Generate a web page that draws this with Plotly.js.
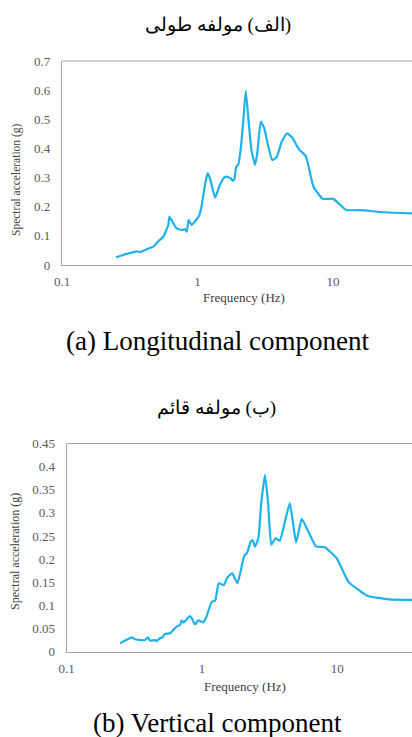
<!DOCTYPE html>
<html>
<head>
<meta charset="utf-8">
<script src="https://cdn.plot.ly/plotly-3.0.1.min.js"></script>
<style>
html,body{margin:0;padding:0;background:#fff;}
#chart{width:412px;height:737px;}
</style>
</head>
<body>
<div id="chart"></div>
<script>
// Longitudinal component (a)
const freqA = [0.25,0.30,0.356,0.376,0.422,0.472,0.517,0.56,0.609,0.62,0.663,0.70,0.762,0.81,0.833,0.86,0.905,0.96,1.026,1.07,1.14,1.19,1.24,1.35,1.45,1.55,1.64,1.76,1.82,1.87,1.93,2.0,2.08,2.17,2.27,2.39,2.5,2.66,2.76,2.93,3.11,3.33,3.56,3.84,4.18,4.59,5.04,5.6,6.3,7.17,8.4,10.05,12.5,15.8,24.2,40];
const accA = [0.026,0.038,0.047,0.044,0.054,0.063,0.083,0.097,0.137,0.166,0.143,0.126,0.120,0.123,0.114,0.155,0.137,0.150,0.169,0.200,0.280,0.315,0.295,0.231,0.270,0.297,0.303,0.297,0.289,0.294,0.337,0.345,0.395,0.486,0.598,0.486,0.395,0.343,0.383,0.492,0.469,0.406,0.360,0.370,0.423,0.452,0.435,0.397,0.374,0.269,0.227,0.227,0.189,0.188,0.181,0.177];
// Vertical component (b)
const freqB = [0.248,0.27,0.302,0.32,0.358,0.379,0.397,0.413,0.45,0.46,0.49,0.51,0.53,0.58,0.613,0.65,0.688,0.707,0.73,0.77,0.81,0.837,0.89,0.94,0.99,1.02,1.08,1.18,1.25,1.33,1.45,1.53,1.67,1.83,2.05,2.15,2.29,2.37,2.46,2.61,2.74,2.92,3.08,3.25,3.5,3.76,4.1,4.46,4.96,5.46,6.19,6.99,8.1,9.9,12.1,16.6,24.2,36];
const accB = [0.018,0.024,0.031,0.027,0.025,0.025,0.031,0.024,0.025,0.023,0.029,0.031,0.038,0.040,0.047,0.054,0.058,0.068,0.063,0.070,0.077,0.073,0.059,0.068,0.065,0.063,0.076,0.108,0.110,0.148,0.144,0.159,0.170,0.148,0.207,0.213,0.238,0.241,0.227,0.245,0.321,0.382,0.321,0.231,0.245,0.240,0.281,0.321,0.236,0.287,0.256,0.227,0.226,0.202,0.151,0.121,0.113,0.112];

const xTickVals = [0.1, 1, 10];
const xTickText = ["0.1", "1", "10"];
const yTickValsA = [0,0.1,0.2,0.3,0.4,0.5,0.6,0.7];
const yTickTextA = ["0","0.1","0.2","0.3","0.4","0.5","0.6","0.7"];
const yTickValsB = [0,0.05,0.1,0.15,0.2,0.25,0.3,0.35,0.4,0.45];
const yTickTextB = ["0","0.05","0.1","0.15","0.2","0.25","0.3","0.35","0.4","0.45"];

const titleA = "(الف) مولفه طولی";
const titleB = "(ب) مولفه قائم";
const captionA = "(a) Longitudinal component";
const captionB = "(b) Vertical component";
const xTitle = "Frequency (Hz)";
const yTitle = "Spectral acceleration (g)";

const RLM = "\u200F";
const rtl = s => RLM + s + RLM;

const W = 412, H = 737;
const px = x => x / W;
const py = y => 1 - y / H;

const serif = "Liberation Serif, Times New Roman, DejaVu Serif, serif";
const lineColor = "#1DB2EC";
const frameColor = "#a6a6a6";
const tickFont = {family: serif, size: 13, color: "#595959"};

const traces = [
  {x: freqA, y: accA, xaxis: "x", yaxis: "y", type: "scatter", mode: "lines",
   line: {color: lineColor, width: 2.2, shape: "spline", smoothing: 0.4}, hoverinfo: "skip"},
  {x: freqB, y: accB, xaxis: "x2", yaxis: "y2", type: "scatter", mode: "lines",
   line: {color: lineColor, width: 2.2, shape: "spline", smoothing: 0.4}, hoverinfo: "skip"}
];

const xCommon = {type: "log", showgrid: false, zeroline: false, showline: true,
  linecolor: frameColor, linewidth: 1.2, ticks: "", tickvals: xTickVals, ticktext: xTickText,
  tickfont: tickFont, automargin: false, fixedrange: true, ticklabelstandoff: 4};
const yCommon = {showgrid: false, zeroline: false, showline: true,
  linecolor: frameColor, linewidth: 1.2, ticks: "", tickfont: tickFont,
  automargin: false, fixedrange: true, ticklabelstandoff: 8};

const topA = 61, botA = 265, leftA = 62;
const topB = 443.5, botB = 651.7, leftB = 66.7;

const layout = {
  width: W, height: H,
  margin: {l: 0, r: 0, t: 0, b: 0},
  paper_bgcolor: "#fff", plot_bgcolor: "#fff",
  showlegend: false,
  xaxis: Object.assign({}, xCommon, {domain: [px(leftA), 1], anchor: "y",
    range: [-1, -1 + (W - leftA) / 135.5]}),
  yaxis: Object.assign({}, yCommon, {domain: [py(botA), py(topA)], anchor: "x",
    range: [0, 0.7], tickvals: yTickValsA, ticktext: yTickTextA}),
  xaxis2: Object.assign({}, xCommon, {domain: [px(leftB), 1], anchor: "y2",
    range: [-1, -1 + (W - leftB) / 135.3]}),
  yaxis2: Object.assign({}, yCommon, {domain: [py(botB), py(topB)], anchor: "x2",
    range: [0, 0.45], tickvals: yTickValsB, ticktext: yTickTextB}),
  shapes: [
    {type: "line", xref: "paper", yref: "paper", x0: px(leftA), x1: 1, y0: py(topA), y1: py(topA),
     line: {color: frameColor, width: 1.2}},
    {type: "line", xref: "paper", yref: "paper", x0: px(leftB), x1: 1, y0: py(topB), y1: py(topB),
     line: {color: frameColor, width: 1.2}}
  ],
  annotations: [
    {text: rtl(titleA), x: px(218), y: py(25), xref: "paper", yref: "paper", showarrow: false,
     xanchor: "center", yanchor: "middle", font: {family: serif, size: 19, color: "#000"}},
    {text: rtl(titleB), x: px(216), y: py(408), xref: "paper", yref: "paper", showarrow: false,
     xanchor: "center", yanchor: "middle", font: {family: serif, size: 19, color: "#000"}},
    {text: xTitle, x: px(244), y: py(297), xref: "paper", yref: "paper", showarrow: false,
     xanchor: "center", yanchor: "middle", font: {family: serif, size: 13, color: "#404040"}},
    {text: xTitle, x: px(245), y: py(686), xref: "paper", yref: "paper", showarrow: false,
     xanchor: "center", yanchor: "middle", font: {family: serif, size: 13, color: "#404040"}},
    {text: yTitle, x: px(16), y: py(180), xref: "paper", yref: "paper", showarrow: false,
     textangle: -90, xanchor: "center", yanchor: "middle", font: {family: serif, size: 11.5, color: "#404040"}},
    {text: yTitle, x: px(15), y: py(552), xref: "paper", yref: "paper", showarrow: false,
     textangle: -90, xanchor: "center", yanchor: "middle", font: {family: serif, size: 12, color: "#404040"}},
    {text: captionA, x: px(217), y: py(341), xref: "paper", yref: "paper", showarrow: false,
     xanchor: "center", yanchor: "middle", font: {family: serif, size: 27, color: "#000"}},
    {text: captionB, x: px(217), y: py(723), xref: "paper", yref: "paper", showarrow: false,
     xanchor: "center", yanchor: "middle", font: {family: serif, size: 27, color: "#000"}}
  ]
};

Plotly.newPlot("chart", traces, layout, {displayModeBar: false, staticPlot: true});
</script>
</body>
</html>
